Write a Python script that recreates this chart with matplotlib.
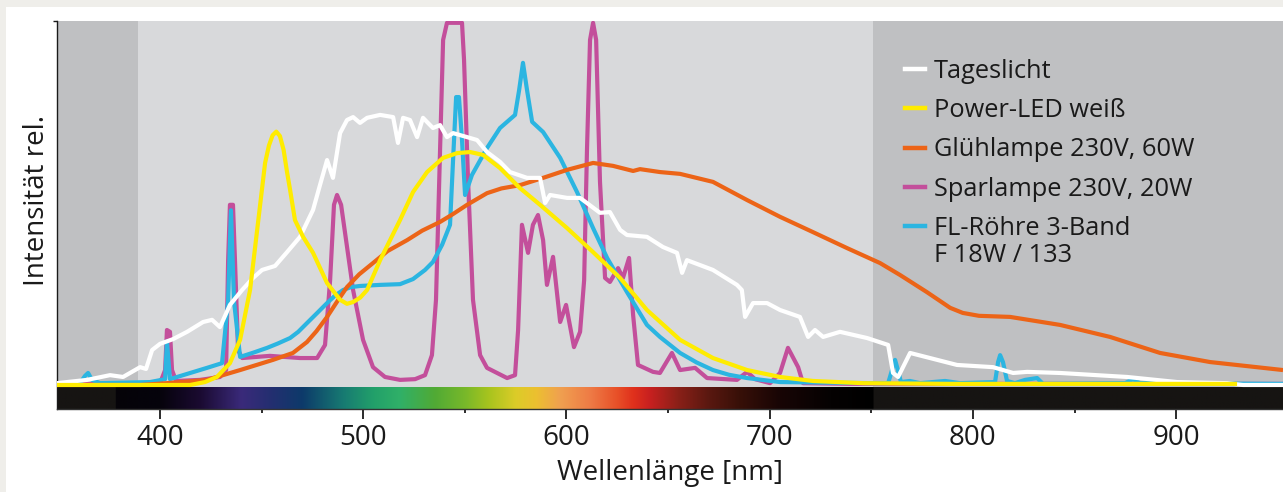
import numpy as np
import matplotlib
matplotlib.use("Agg")
import matplotlib.pyplot as plt
from matplotlib.patches import Rectangle
from matplotlib.lines import Line2D

plt.rcParams['font.family'] = ['Open Sans', 'DejaVu Sans']

# ---------------- data (wavelength nm, relative intensity 0..100) ----------------
day_nm = [349.3, 364.1, 375.4, 381.8, 390.2, 393.1, 396.1, 400.0, 406.4, 413.3, 421.2, 425.6, 429.5,
          434.4, 440.4, 445.8, 450.2, 456.6, 462.5, 468.9, 475.3, 478.7, 482.2, 485.1, 488.6, 492.0,
          495.0, 498.4, 501.9, 508.3, 514.7, 517.1, 519.6, 523.0, 526.5, 529.4, 534.3, 537.8, 541.2,
          544.2, 551.1, 556.0, 560.9, 567.3, 572.2, 580.6, 587.0, 589.5, 591.9, 600.3, 606.7, 616.5,
          621.4, 626.4, 629.8, 639.6, 647.5, 654.4, 656.9, 659.3, 672.1, 683.9, 686.3, 687.9, 691.8,
          698.7, 705.1, 714.9, 718.9, 722.3, 726.3, 734.6, 747.9, 758.3, 760.7, 763.2, 769.1, 792.2,
          809.9, 819.8, 826.7, 842.9, 875.9, 900.5, 925.1, 932.9, 952.6]
day_val = [0.5, 1.4, 2.7, 2.2, 4.9, 4.4, 9.6, 11.3, 12.6, 14.6, 17.3, 17.9, 15.9,
           22.0, 26.1, 29.4, 31.6, 32.7, 36.5, 40.7, 48.1, 54.9, 61.8, 56.9, 69.2, 72.8,
           73.6, 72.0, 73.4, 74.2, 73.6, 66.5, 73.4, 72.8, 68.1, 73.4, 70.6, 71.4, 68.1,
           69.2, 68.1, 67.3, 64.0, 61.3, 58.5, 56.9, 56.9, 50.0, 52.2, 51.4, 51.4, 47.3,
           47.5, 42.6, 41.2, 40.7, 37.9, 36.3, 30.8, 34.3, 31.6, 27.5, 26.1, 18.7, 22.5,
           22.5, 20.6, 18.7, 13.2, 15.1, 13.2, 14.6, 12.9, 11.0, 3.3, 2.2, 8.8, 5.5,
           4.9, 3.3, 3.6, 3.3, 2.2, 0.8, 0.5, 0.0, 0.0]

led_nm = [349.3, 414.8, 422.1, 428.0, 434.4, 439.4, 444.3, 448.2, 451.7, 453.6, 455.4, 457.2, 459.0,
          460.8, 462.5, 464.0, 466.4, 470.4, 475.3, 482.2, 488.6, 492.0, 495.0, 498.5, 501.9, 508.3,
          518.1, 524.5, 531.4, 539.3, 546.2, 552.6, 559.0, 567.3, 577.1, 587.0, 600.3, 613.1, 626.4,
          639.6, 655.9, 672.1, 688.9, 705.1, 721.3, 745.9, 788.8, 930.0]
led_val = [0.0, 0.0, 0.8, 2.2, 6.0, 12.4, 26.1, 44.5, 61.0, 65.8, 68.6, 69.6, 68.4,
           64.6, 58.5, 53.6, 45.3, 40.7, 36.3, 28.0, 23.4, 22.3, 22.8, 24.0, 26.1, 34.3,
           45.3, 53.0, 58.5, 62.4, 63.7, 64.0, 63.2, 59.6, 54.1, 49.5, 43.1, 36.5, 29.4,
           20.6, 12.4, 7.4, 4.1, 2.2, 1.1, 0.5, 0.3, 0.3]

bulb_nm = [349.3, 390.2, 403.4, 423.1, 439.4, 455.6, 465.4, 472.3, 477.0, 482.2, 487.0, 492.0, 498.0,
           504.8, 512.0, 521.6, 529.0, 537.8, 544.0, 551.1, 560.9, 568.0, 577.1, 588.5, 600.3, 613.1,
           622.9, 632.8, 636.2, 646.0, 655.9, 672.1, 688.9, 705.1, 721.3, 738.1, 754.3, 764.2, 777.4,
           788.8, 795.0, 803.0, 818.3, 842.9, 867.5, 892.1, 916.7, 952.6]
bulb_val = [0.0, 0.0, 0.5, 1.4, 4.1, 6.9, 8.8, 11.8, 14.8, 18.7, 22.8, 26.9, 30.4,
            33.5, 36.8, 39.8, 42.4, 44.8, 46.9, 49.5, 52.7, 54.0, 54.9, 56.9, 59.1, 61.0,
            60.2, 58.8, 59.3, 58.5, 58.0, 55.8, 50.8, 46.2, 42.0, 37.6, 33.5, 30.2, 25.5,
            21.2, 19.8, 19.0, 18.7, 16.5, 13.2, 8.8, 6.3, 4.1]

cfl_nm = [349.3, 390.2, 400.0, 402.5, 403.4, 404.9, 405.9, 407.9, 419.7, 429.5, 432.5, 433.5, 434.4,
          435.9, 436.9, 438.4, 440.4, 454.1, 468.9, 477.3, 481.2, 483.7, 485.6, 487.1, 489.1, 495.0,
          499.9, 504.8, 510.7, 518.1, 525.5, 530.4, 533.8, 535.8, 537.8, 539.3, 541.2, 548.6, 549.6,
          551.6, 554.0, 557.5, 560.9, 570.8, 574.7, 576.2, 578.1, 581.1, 583.5, 586.0, 588.5, 590.4,
          593.4, 596.9, 599.8, 603.7, 606.7, 608.7, 610.1, 611.6, 613.1, 614.6, 616.5, 619.0, 621.4,
          625.4, 627.8, 630.8, 632.8, 635.2, 642.6, 646.0, 651.9, 655.9, 663.3, 669.2, 683.9, 688.9,
          692.8, 700.2, 705.1, 709.0, 714.0, 716.4, 739.5, 952.6]
cfl_val = [0.3, 0.3, 0.5, 4.1, 15.1, 14.6, 4.1, 1.1, 1.4, 2.2, 4.1, 34.0, 49.5,
           49.5, 34.0, 9.6, 7.4, 8.0, 7.4, 7.4, 11.0, 28.8, 49.5, 52.2, 49.5, 26.1,
           12.4, 4.9, 2.2, 1.4, 1.6, 2.7, 8.2, 23.4, 64.6, 94.8, 99.5, 99.5, 89.3,
           55.8, 23.4, 8.2, 4.7, 1.9, 2.7, 15.1, 44.0, 36.3, 44.0, 46.7, 39.8, 27.5,
           35.2, 17.3, 22.0, 10.4, 14.6, 28.8, 64.6, 94.8, 99.5, 94.8, 55.8, 29.4, 28.3,
           32.1, 29.4, 34.9, 19.2, 5.5, 3.6, 3.3, 8.8, 4.1, 4.7, 1.9, 1.4, 3.6,
           1.6, 0.5, 3.3, 10.2, 4.9, 0.5, 0.3, 0.3]

tube_nm = [349.3, 360.6, 363.1, 364.6, 366.5, 370.5, 395.1, 402.5, 403.4, 404.9, 408.4, 423.1, 430.5,
           433.5, 434.9, 436.4, 439.4, 446.0, 452.7, 458.0, 464.0, 468.0, 472.3, 477.0, 482.2, 486.0,
           490.1, 494.0, 498.4, 508.3, 518.1, 524.5, 530.4, 534.3, 538.8, 542.7, 544.2, 545.7, 547.1,
           548.6, 550.1, 553.5, 560.9, 567.3, 574.7, 576.7, 578.6, 580.6, 583.1, 588.5, 596.9, 605.2,
           613.1, 620.0, 629.8, 639.6, 646.0, 655.9, 664.0, 672.1, 680.0, 688.9, 705.1, 750.9, 758.3,
           760.2, 761.7, 763.1, 764.6, 769.0, 774.0, 786.3, 793.7, 810.9, 812.4, 813.4, 814.8, 816.8,
           820.7, 825.7, 831.6, 834.5, 874.9, 878.8, 882.3, 952.6]
tube_val = [0.3, 0.5, 2.5, 3.3, 1.4, 0.5, 0.8, 1.6, 12.0, 1.6, 2.2, 4.7, 6.0,
            23.0, 48.0, 23.0, 7.7, 8.9, 10.2, 11.4, 12.9, 14.6, 17.0, 19.6, 22.5, 24.5,
            26.1, 26.9, 27.2, 27.5, 27.7, 29.1, 31.6, 33.8, 38.5, 44.0, 61.8, 79.1, 79.1,
            67.3, 52.2, 57.7, 65.1, 70.6, 74.2, 81.0, 88.5, 81.0, 72.3, 69.5, 62.4, 53.0,
            43.1, 34.9, 25.5, 16.5, 13.2, 8.8, 6.2, 4.1, 2.8, 1.9, 0.8, 0.5, 0.5,
            4.1, 6.9, 4.1, 0.8, 1.1, 0.5, 1.1, 0.5, 0.8, 6.3, 8.2, 6.3, 1.1,
            0.5, 1.4, 1.9, 0.3, 0.5, 1.6, 0.5, 0.3]

labels = ["Tageslicht", "Power-LED weiß", "Glühlampe 230V, 60W", "Sparlampe 230V, 20W", "FL-Röhre 3-Band"]
label_extra = "F 18W / 133"
colors = ["#FFFFFF", "#FFEC00", "#EC6417", "#C34F9B", "#2BB5E1"]

xticks_major = [400, 500, 600, 700, 800, 900]
xticks_minor = [450, 550, 650, 750, 850]
visible_range = (389, 751)
spectrum_range = (378, 751)

# spectrum colour stops (nm, colour)
spec_nm = [378.0, 400, 420, 440, 455, 470, 490, 505, 518, 535, 550, 562, 575, 585, 597, 612,
           625, 633, 641, 655, 670, 685, 705, 730, 751.0]
spec_col = ["#050308", "#06030C", "#1B0B32", "#3A2A7A", "#232F70", "#0D3A6A", "#177A72", "#22A06A",
            "#30B068", "#50AA35", "#78B82A", "#A8C41E", "#DCCC28", "#ECC030", "#F0A050", "#EE7A45",
            "#E85028", "#E0301C", "#C82020", "#8A2018", "#5A1810", "#381008", "#180505", "#050202",
            "#000000"]

# ---------------- figure ----------------
W, H = 1283, 492
fig = plt.figure(figsize=(W / 100, H / 100), dpi=100, facecolor="#EFEEEA")
fig.patches.append(Rectangle((6 / W, 0), 1, 1 - 7 / H, transform=fig.transFigure,
                             facecolor="white", edgecolor="none", zorder=-10))
ax = fig.add_axes([57 / W, 1 - 409 / H, 1226 / W, 388 / H])
xmin, xmax = 349.3, 952.6
ymin, ymax = -6.6, 100
bar_top = -0.7
ax.set_xlim(xmin, xmax)
ax.set_ylim(ymin, ymax)
ax.set_facecolor("#BFC0C2")
ax.axvspan(*visible_range, color="#D8D9DB", zorder=0, lw=0)

# spectrum bar
wl = np.linspace(xmin, xmax, 1500)
rgb_stops = np.array([matplotlib.colors.to_rgb(c) for c in spec_col])
dark = np.array(matplotlib.colors.to_rgb("#161412"))
img = np.zeros((1, wl.size, 3))
for k in range(3):
    img[0, :, k] = np.interp(wl, spec_nm, rgb_stops[:, k])
outside = (wl < spectrum_range[0]) | (wl > spectrum_range[1])
img[0, outside, :] = dark
ax.imshow(img, extent=[xmin, xmax, ymin, bar_top], aspect="auto", zorder=1, interpolation="bilinear")

lw = 3.0
series = [(cfl_nm, cfl_val, colors[3], 2),
          (tube_nm, tube_val, colors[4], 3),
          (bulb_nm, bulb_val, colors[2], 4),
          (day_nm, day_val, colors[0], 5),
          (led_nm, led_val, colors[1], 6)]
for xs, ys, c, z in series:
    ax.plot(xs, ys, color=c, lw=lw, zorder=z, solid_joinstyle="round", solid_capstyle="butt")

# legend
fs_leg = 18.3
handles = [Line2D([], [], color=c, lw=3.2) for c in colors]
leg = ax.legend(handles, labels, loc="upper left", bbox_to_anchor=((905 - 57) / 1226, 1 - (59 - 21) / 388),
                frameon=False, fontsize=fs_leg, handlelength=0.8, handletextpad=0.35,
                labelspacing=0.56, borderpad=0, borderaxespad=0)
leg.set_zorder(8)
for t in leg.get_texts():
    t.set_color("#1A1A1A")
ax.annotate(label_extra, xy=(0, 0), xycoords=leg.get_texts()[-1], xytext=(0, -1.8),
            textcoords="offset points", va="top", ha="left", fontsize=fs_leg, color="#1A1A1A",
            zorder=20)

# axes styling
for s in ["top", "right"]:
    ax.spines[s].set_visible(False)
ax.spines["left"].set_color("#1A1A1A")
ax.spines["bottom"].set_color("#333333")
ax.spines["left"].set_linewidth(1.0)
ax.spines["bottom"].set_linewidth(1.0)
ax.set_xticks(xticks_major)
ax.set_xticks(xticks_minor, minor=True)
ax.set_yticks([ymax])
ax.set_yticklabels([])
ax.tick_params(axis="x", which="major", length=7, width=1.3, color="#1A1A1A", labelsize=20,
               labelcolor="#1A1A1A", pad=4)
ax.tick_params(axis="x", which="minor", length=3, width=1.3, color="#1A1A1A")
ax.tick_params(axis="y", length=3, width=1.0, color="#1A1A1A")
ax.set_xlabel("Wellenlänge [nm]", fontsize=20, color="#1A1A1A", labelpad=5)
ax.set_ylabel("Intensität rel.", fontsize=20, color="#1A1A1A")
ax.yaxis.set_label_coords(-0.005, 1 - (200 - 21) / 388)

fig.savefig("out.png", dpi=100, facecolor=fig.get_facecolor())
